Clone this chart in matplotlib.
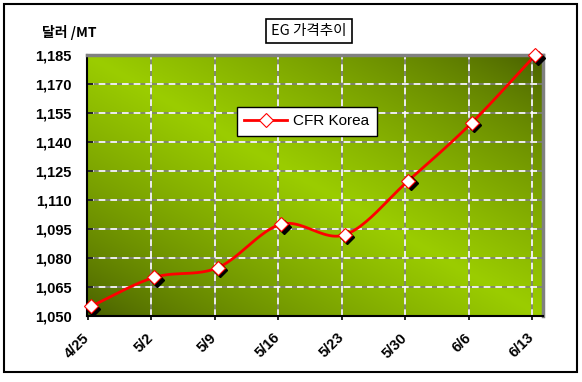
import numpy as np
import matplotlib
matplotlib.use("Agg")
import matplotlib.pyplot as plt
from matplotlib.patches import Rectangle
from matplotlib.transforms import ScaledTranslation
from matplotlib.lines import Line2D

plt.rcParams['font.family'] = ['Liberation Sans', 'Noto Sans CJK KR', 'DejaVu Sans']

dates = ["4/25", "5/2", "5/9", "5/16", "5/23", "5/30", "6/6", "6/13"]
cfr_korea = [1055, 1070, 1075, 1097.5, 1092, 1120, 1150, 1185]
y_ticks = [1050, 1065, 1080, 1095, 1110, 1125, 1140, 1155, 1170, 1185]
y_tick_labels = ["1,050", "1,065", "1,080", "1,095", "1,110", "1,125", "1,140", "1,155", "1,170", "1,185"]
title_text = "EG 가격추이"
unit_text = "달러 /MT"
series_name = "CFR Korea"

fig = plt.figure(figsize=(5.82, 3.82), dpi=100)
fig.patch.set_facecolor("white")
ax = fig.add_axes([87/582, 1-316/382, (543-87)/582, (316-55)/382])

# background gradient
n = 300
X, Y = np.meshgrid(np.linspace(0, 1, n), np.linspace(0, 1, n))
u = X - Y
t = np.clip(1 - np.abs(u), 0, 1) ** 0.75
bright = np.array([155, 205, 0]) / 255
dark = np.array([70, 92, 0]) / 255
img = dark[None, None, :] + (bright - dark)[None, None, :] * t[..., None]
ax.imshow(img, extent=[0, 1, 0, 1], transform=ax.transAxes, aspect='auto', zorder=0)

xs = np.arange(len(dates))
ax.set_xlim(-0.06, 7.12)
ax.set_ylim(y_ticks[0], y_ticks[-1])

# grid: gray solid + white dashed
for yv in y_ticks[1:-1]:
    ax.axhline(yv, color="#808080", lw=1.2, zorder=1)
    ax.axhline(yv, color="white", lw=1.2, ls=(0, (4, 3)), zorder=1.1)
for xv in xs[1:]:
    ax.axvline(xv - 0.05, color="#808080", lw=1.2, zorder=1)
    ax.axvline(xv - 0.05, color="white", lw=1.2, ls=(0, (4, 3)), zorder=1.1)

# smooth curve (Catmull-Rom through data points)
px = np.concatenate([[2*xs[0]-xs[1]], xs, [2*xs[-1]-xs[-2]]]).astype(float)
py = np.concatenate([[2*cfr_korea[0]-cfr_korea[1]], cfr_korea, [2*cfr_korea[-1]-cfr_korea[-2]]]).astype(float)
cx, cy = [], []
ts = np.linspace(0, 1, 25)
for i in range(1, len(px)-2):
    for arr, out in ((px, cx), (py, cy)):
        p0, p1, p2, p3 = arr[i-1], arr[i], arr[i+1], arr[i+2]
        out.extend(0.5*((2*p1) + (-p0+p2)*ts + (2*p0-5*p1+4*p2-p3)*ts**2 + (-p0+3*p1-3*p2+p3)*ts**3))
ax.plot(cx, cy, color="#FF0000", lw=2, zorder=3, solid_capstyle='round')

shadow = ax.transData + ScaledTranslation(2.5/100, -2.5/100, fig.dpi_scale_trans)
ax.plot(xs, cfr_korea, 'D', ms=7, color='black', transform=shadow, zorder=3.5, clip_on=False)
ax.plot(xs, cfr_korea, 'D', ms=7, mfc='white', mec='#FF0000', mew=0.8, ls='none', zorder=4, clip_on=False)

ax.set_yticks(y_ticks)
ax.set_yticklabels(y_tick_labels, fontsize=10.5, fontweight='bold')
ax.set_xticks(xs - 0.05)
ax.set_xticklabels(dates, fontsize=10.5, fontweight='bold', rotation=45, ha='right',
                   rotation_mode='anchor', va='center')
ax.tick_params(axis='y', direction='in', length=4, width=1.2, pad=11)
ax.tick_params(axis='x', direction='out', length=3, width=1.2, pad=11)

for s in ('left', 'bottom'):
    ax.spines[s].set_color('black')
    ax.spines[s].set_linewidth(1.5)
for s in ('top', 'right'):
    ax.spines[s].set_color('#808080')
    ax.spines[s].set_linewidth(2.5)

# legend
handle = Line2D([], [], color='#FF0000', lw=2, marker='D', ms=7, mfc='white', mec='#FF0000', mew=0.8)
leg = ax.legend([handle], [series_name], loc='upper left', bbox_to_anchor=(142/456, 1-44/261),
                frameon=True, fancybox=False, edgecolor='black', framealpha=1,
                prop={'size': 11}, handlelength=2.8, borderpad=0.5, handletextpad=0.4)
leg.get_frame().set_linewidth(1.0)

# title box
fig.text(309/582, 1-31/382, title_text, ha='center', va='center', fontsize=10.5,
         family=['Noto Sans CJK KR', 'DejaVu Sans'],
         bbox=dict(boxstyle='square,pad=0.35', fc='white', ec='black', lw=1.2))
fig.text(42/582, 1-32/382, unit_text, ha='left', va='center', fontsize=10, fontweight='bold',
         family=['Noto Sans CJK KR', 'DejaVu Sans'])

# figure border
fig.patches.append(Rectangle((4/582, 1-372/382), 573/582, 368/382, transform=fig.transFigure,
                             fill=False, ec='black', lw=1.5))

fig.savefig("out.png", dpi=100)
